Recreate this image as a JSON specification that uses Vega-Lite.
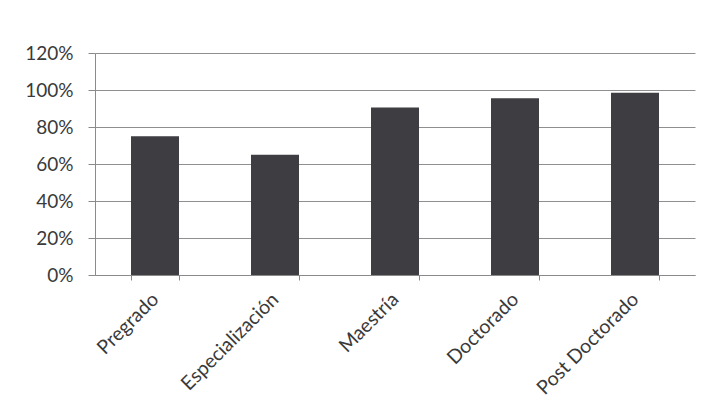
{
  "$schema": "https://vega.github.io/schema/vega-lite/v6.json",
  "width": 600,
  "height": 222,
  "autosize": {"type": "none"},
  "padding": {"left": 95, "top": 53, "right": 20, "bottom": 142},
  "background": "white",
  "data": {"values": [
    {"nivel": "Pregrado", "valor": 0.75},
    {"nivel": "Especialización", "valor": 0.65},
    {"nivel": "Maestría", "valor": 0.905},
    {"nivel": "Doctorado", "valor": 0.955},
    {"nivel": "Post Doctorado", "valor": 0.985}
  ]},
  "mark": {"type": "bar", "color": "#3d3d42"},
  "encoding": {
    "x": {
      "field": "nivel", "type": "nominal", "sort": null,
      "scale": {"paddingInner": 0.6, "paddingOuter": 0.3},
      "axis": {
        "title": null, "labelAngle": -45, "labelAlign": "right", "labelBaseline": "middle",
        "labelFont": "Lato", "labelFontSize": 19.5, "labelColor": "#3a3a3a", "labelPadding": 16,
        "tickBand": "extent", "ticks": true, "tickSize": 5, "tickColor": "#8a8a8a",
        "domainColor": "#8a8a8a", "grid": false, "labelLimit": 300
      }
    },
    "y": {
      "field": "valor", "type": "quantitative",
      "scale": {"domain": [0, 1.2], "nice": false},
      "axis": {
        "title": null, "values": [0, 0.2, 0.4, 0.6, 0.8, 1.0, 1.2], "format": ".0%",
        "labelFont": "Lato", "labelFontSize": 19, "labelColor": "#3a3a3a", "labelPadding": 15,
        "tickSize": 7, "tickColor": "#8a8a8a", "domainColor": "#8a8a8a",
        "grid": true, "gridColor": "#8f8f8f", "gridWidth": 1
      }
    }
  },
  "config": {"view": {"stroke": null}}
}
